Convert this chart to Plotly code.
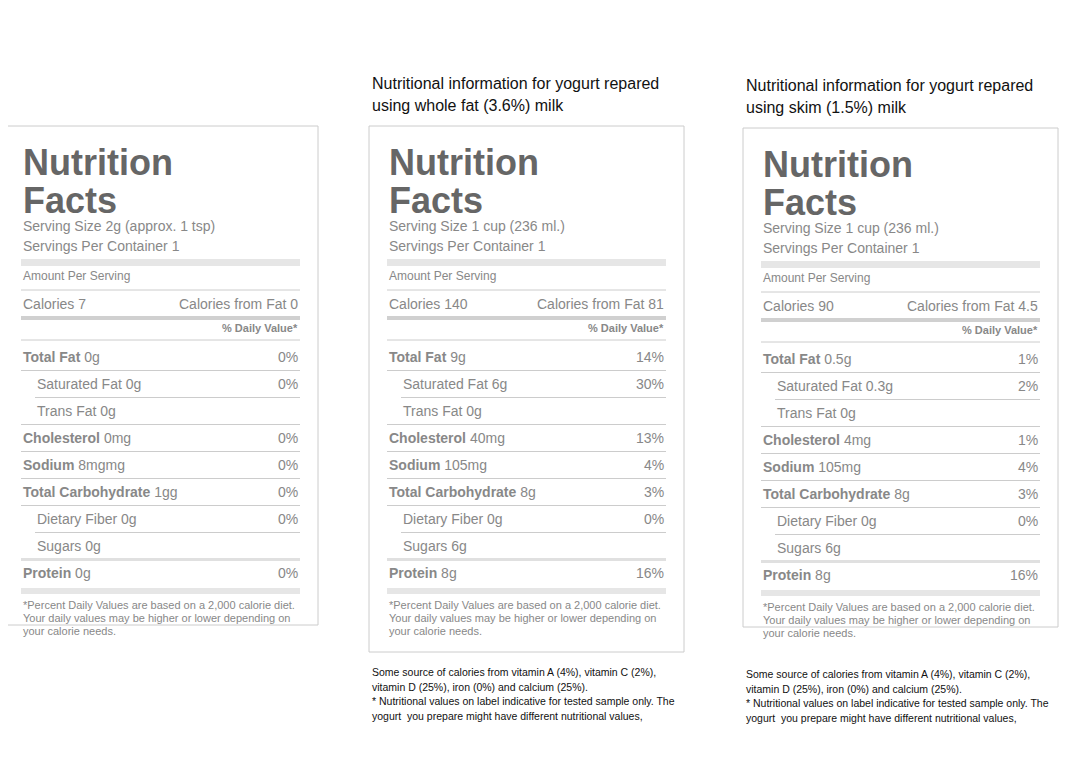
import plotly.graph_objects as go

title = "Nutritional Information of Bacillus Bulgaricus Yogurt Starter and Yogurt"
headers = [["Nutritional information for 2 grams of", "yogurt starter culture"],
           ["Nutritional information for yogurt repared", "using whole fat (3.6%) milk"],
           ["Nutritional information for yogurt repared", "using skim (1.5%) milk"]]
serving_size = ["2g (approx. 1 tsp)", "1 cup (236 ml.)", "1 cup (236 ml.)"]
calories = ["7", "140", "90"]
cal_fat = ["0", "81", "4.5"]
nutrients = ["Total Fat", "Saturated Fat", "Trans Fat", "Cholesterol", "Sodium",
             "Total Carbohydrate", "Dietary Fiber", "Sugars", "Protein"]
bold_row = [True, False, False, True, True, True, False, False, True]
amounts = [["0g", "0g", "0g", "0mg", "8mgmg", "1gg", "0g", "0g", "0g"],
           ["9g", "6g", "0g", "40mg", "105mg", "8g", "0g", "6g", "8g"],
           ["0.5g", "0.3g", "0g", "4mg", "105mg", "8g", "0g", "6g", "8g"]]
dv = [["0%", "0%", "", "0%", "0%", "0%", "0%", "", "0%"],
      ["14%", "30%", "", "13%", "4%", "3%", "0%", "", "16%"],
      ["1%", "2%", "", "1%", "4%", "3%", "0%", "", "16%"]]
notes = [["Not a significant source of calories from fat, saturated fat,",
          "dietary fiber, sugars, protein, vitamin A, vitamin C, iron and calcium.",
          "Other ingredients:", "- Nonfat milk solids",
          "- Laboratory cultures Lactobacillus bulgaricus (>1 billion cfu)",
          "and Streptococcus thermophiles (>1 billion cfu)",
          "Contains no preservatives, artificial colors and flavors.",
          "Gluten free. GMO free."],
         ["Some source of calories from vitamin A (4%), vitamin C (2%),",
          "vitamin D (25%), iron (0%) and calcium (25%).",
          "* Nutritional values on label indicative for tested sample only. The",
          "yogurt  you prepare might have different nutritional values,"],
         ["Some source of calories from vitamin A (4%), vitamin C (2%),",
          "vitamin D (25%), iron (0%) and calcium (25%).",
          "* Nutritional values on label indicative for tested sample only. The",
          "yogurt  you prepare might have different nutritional values,"]]

FONT = "Liberation Sans"
panel_x = [3, 369, 743]
panel_dy = [0, 0, 2]
box_bottom = [625, 652, 627]

fig = go.Figure()
ann = []
shapes = []

def txt(x, y, s, size=14, color="#888", anchor="left", bold=False):
    if bold:
        s = "<b>" + s + "</b>"
    ann.append(dict(x=x, y=y, text=s, showarrow=False, xanchor=anchor, yanchor="middle",
                    font=dict(family=FONT, size=size, color=color), xref="x", yref="y"))

def hline(x0, x1, y, w=1, color="#ccc"):
    shapes.append(dict(type="line", x0=x0, x1=x1, y0=y, y1=y, xref="x", yref="y",
                       line=dict(color=color, width=w)))

def bar(x0, x1, y0, y1, color):
    shapes.append(dict(type="rect", x0=x0, x1=x1, y0=y0, y1=y1, xref="x", yref="y",
                       line=dict(width=0), fillcolor=color))

txt(5, 20, title, size=24, color="#111")

for p in range(3):
    X = panel_x[p]; d = panel_dy[p]
    L = X + 18; R = X + 297
    txt(X + 1, 83 + d, headers[p][0], 16, "#111")
    txt(X + 1, 105 + d, headers[p][1], 16, "#111")
    shapes.append(dict(type="rect", x0=X, x1=X + 315, y0=126 + d, y1=box_bottom[p],
                       xref="x", yref="y", line=dict(color="#ccc", width=1)))
    txt(L, 162 + d, "Nutrition", 36, "#666", bold=True)
    txt(L, 200 + d, "Facts", 36, "#666", bold=True)
    txt(L, 226 + d, "Serving Size " + serving_size[p], 14)
    txt(L, 246 + d, "Servings Per Container 1", 14)
    bar(L, R, 259 + d, 266 + d, "#e6e6e6")
    txt(L, 276 + d, "Amount Per Serving", 12)
    hline(L, R, 290 + d)
    txt(L, 304 + d, "Calories " + calories[p], 14)
    txt(R, 304 + d, "Calories from Fat " + cal_fat[p], 14, anchor="right")
    bar(L, R, 316 + d, 320 + d, "#d0d0d0")
    txt(R, 328 + d, "% Daily Value*", 11, bold=True, anchor="right")
    hline(L, R, 340 + d)
    for i, n in enumerate(nutrients):
        y = 357 + 27 * i + d
        indent = 0 if bold_row[i] else 14
        label = ("<b>" + n + "</b>" if bold_row[i] else n) + " " + amounts[p][i]
        txt(L + indent, y, label, 14)
        if dv[p][i]:
            txt(R, y, dv[p][i], 14, anchor="right")
        if i < len(nutrients) - 2:
            hline(L + indent if not bold_row[i + 1] else L, R, y + 13.5)
        elif i == len(nutrients) - 2:
            bar(L, R, y + 12, y + 15, "#e0e0e0")
    bar(L, R, 588 + d, 594 + d, "#e6e6e6")
    for j, s in enumerate(["*Percent Daily Values are based on a 2,000 calorie diet.",
                           "Your daily values may be higher or lower depending on",
                           "your calorie needs."]):
        txt(L, 605 + 13 * j + d, s, 11)
    ny = [670, 672, 674][p]
    for j, s in enumerate(notes[p]):
        txt(X + 1 - (2 if p == 0 else 0), ny + 14.5 * j, s, 10.5, "#111")

fig.update_layout(width=1068, height=784, margin=dict(l=0, r=0, t=0, b=0),
                  paper_bgcolor="white", plot_bgcolor="white",
                  xaxis=dict(range=[8, 1076], visible=False, fixedrange=True),
                  yaxis=dict(range=[792, 8], visible=False, fixedrange=True),
                  annotations=ann, shapes=shapes, showlegend=False)
fig.write_html("out.html")
